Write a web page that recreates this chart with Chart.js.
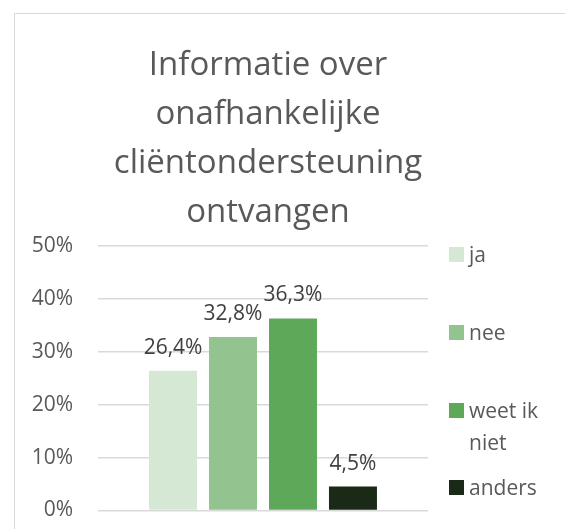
<!DOCTYPE html>
<html>
<head>
<meta charset="utf-8">
<script src="https://cdn.jsdelivr.net/npm/chart.js@4"></script>
<style>
  html, body { margin: 0; padding: 0; background: #fff; overflow: hidden; }
  #frame { position: absolute; left: 14px; top: 13px; width: 700px; height: 700px; border: 1px solid #d9d9d9; }
  #wrap { position: absolute; left: 0; top: 0; width: 565px; height: 548px; }
</style>
</head>
<body>
<div id="frame"></div>
<div id="wrap"><canvas id="c"></canvas></div>
<script>
// Excel-style single-category bar chart, one dataset per answer.
const TITLE_LINES = ['Informatie over', 'onafhankelijke', 'cliëntondersteuning', 'ontvangen'];
const CATEGORIES = [''];
const SERIES_NAMES = ['ja', 'nee', 'weet ik niet', 'anders'];
const SERIES_VALUES = [0.264, 0.328, 0.363, 0.045];
const SERIES_LABELS = ['26,4%', '32,8%', '36,3%', '4,5%'];
const LEGEND_LINES = [['ja'], ['nee'], ['weet ik', 'niet'], ['anders']];
const COLORS = ['#d5e8d4', '#93c48f', '#5ea85a', '#1a2a17'];

const FONT = '"Open Sans", "Noto Sans", sans-serif';
const GREY = '#595959';

// title + legend + value labels drawn by hand (Excel wraps them, Chart.js won't)
const excelBits = {
  id: 'excelBits',
  afterDatasetsDraw(chart) {
    const ctx = chart.ctx;
    ctx.save();
    ctx.font = '21px ' + FONT;
    ctx.fillStyle = '#404040';
    ctx.textAlign = 'center';
    ctx.textBaseline = 'alphabetic';
    chart.data.datasets.forEach((ds, i) => {
      const el = chart.getDatasetMeta(i).data[0];
      ctx.fillText(SERIES_LABELS[i], el.x, el.y - 17);
    });
    ctx.restore();
  },
  afterDraw(chart) {
    const ctx = chart.ctx;
    ctx.save();
    // title
    ctx.font = '33px ' + FONT;
    ctx.fillStyle = GREY;
    ctx.textAlign = 'center';
    ctx.textBaseline = 'alphabetic';
    TITLE_LINES.forEach((t, i) => ctx.fillText(t, 268, 75 + i * 49));
    // legend
    ctx.font = '21px ' + FONT;
    ctx.textAlign = 'left';
    const tops = [247, 325, 403, 480];
    LEGEND_LINES.forEach((lines, i) => {
      ctx.fillStyle = COLORS[i];
      ctx.fillRect(449, tops[i], 15, 15);
      ctx.fillStyle = GREY;
      lines.forEach((l, j) => ctx.fillText(l, 469, tops[i] + 15 + j * 32));
    });
    ctx.restore();
  }
};

new Chart(document.getElementById('c'), {
  type: 'bar',
  data: {
    labels: CATEGORIES,
    datasets: SERIES_NAMES.map((name, i) => ({
      label: name,
      data: [SERIES_VALUES[i]],
      backgroundColor: COLORS[i],
      borderWidth: 0,
      barPercentage: 0.8,
      categoryPercentage: 0.727,
    })),
  },
  options: {
    responsive: true, maintainAspectRatio: false,
    animation: false,
    layout: { padding: { left: 14, right: 137, top: 246, bottom: 10 } },
    plugins: {
      legend: { display: false },
      title: { display: false },
      tooltip: { enabled: false },
    },
    scales: {
      x: { display: false },
      y: {
        min: 0, max: 0.5,
        afterFit(scale) { scale.width = 84; },
        border: { display: false },
        grid: { color: '#d9d9d9', lineWidth: 1.5, drawTicks: false },
        ticks: {
          stepSize: 0.1, padding: 25,
          color: GREY,
          font: { family: FONT, size: 21 },
          callback: v => Math.round(v * 100) + '%',
        },
      },
    },
  },
  plugins: [excelBits],
});
</script>
</body>
</html>
